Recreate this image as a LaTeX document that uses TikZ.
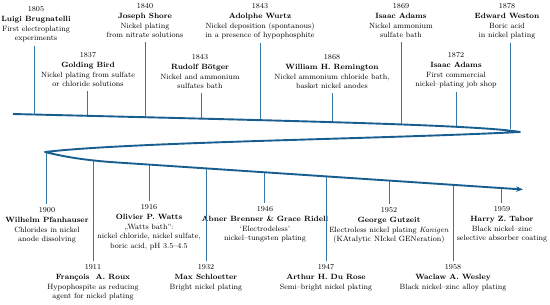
\documentclass[tikz,border=0pt]{standalone}
\usetikzlibrary{arrows.meta}
\definecolor{tlblue}{RGB}{24,94,145}
\definecolor{stemblue}{RGB}{52,120,168}
\begin{document}
\begin{tikzpicture}[
        x=1pt, y=-1pt,
        timeline/.style={line width=1.9pt, tlblue, line join=round, -{Stealth[length=7pt,width=5.5pt]}},
        stem/.style={line width=0.8pt, stemblue},
        event/.style={font=\fontsize{7.6}{9.6}\selectfont, align=center, inner sep=4pt, text=black},
        up/.style={event, anchor=north},
        down/.style={event, anchor=north}
    ]
        \useasboundingbox (0,0) rectangle (550,305);

        % Points on the timeline
        \coordinate (l1805) at (34,114.6);
        \coordinate (l1837) at (87,116);
        \coordinate (l1840) at (145,117.3);
        \coordinate (l1843a) at (201,118.7);
        \coordinate (l1843b) at (260,120.1);
        \coordinate (l1868) at (332,122);
        \coordinate (l1869) at (401,124);
        \coordinate (l1872) at (456,125.8);
        \coordinate (l1878) at (510,129.3);
        \coordinate (l1900) at (46,152.3);
        \coordinate (l1911) at (93,160.8);
        \coordinate (l1916) at (149,164.6);
        \coordinate (l1932) at (206,168.4);
        \coordinate (l1946) at (264,172.3);
        \coordinate (l1947) at (326,176.4);
        \coordinate (l1952) at (389,180.6);
        \coordinate (l1958) at (453,184.8);
        \coordinate (l1959) at (501,188);

        % Events above the timeline
        \node[up] (e1805) at (36,2.6) {1805\\\textbf{Luigi Brugnatelli}\\First electroplating\\experiments};
        \node[up] (e1837) at (88,48.6) {1837\\\textbf{Golding Bird}\\Nickel plating from sulfate\\or chloride solutions};
        \node[up] (e1840) at (145,-0.4) {1840\\\textbf{Joseph Shore}\\Nickel plating\\from nitrate solutions};
        \node[up] (e1843a) at (200,50.6) {1843\\\textbf{Rudolf B\"otger}\\Nickel and ammonium\\sulfates bath};
        \node[up] (e1843b) at (260,-0.4) {1843\\\textbf{Adolphe Wurtz}\\Nickel deposition (spontanous)\\in a presence of hypophosphite};
        \node[up] (e1868) at (332,50.6) {1868\\\textbf{William H. Remington}\\Nickel ammonium chloride bath,\\basket nickel anodes};
        \node[up] (e1869) at (401,-0.4) {1869\\\textbf{Isaac Adams}\\Nickel ammonium\\sulfate bath};
        \node[up] (e1872) at (456,48.6) {1872\\\textbf{Isaac Adams}\\First commercial\\nickel--plating job shop};
        \node[up] (e1878) at (507,-0.4) {1878\\\textbf{Edward Weston}\\Boric acid\\in nickel plating};

        % Events below the timeline
        \node[down] (e1900) at (47,203.6) {1900\\\textbf{Wilhelm Pfanhauser}\\Chlorides in nickel\\anode dissolving};
        \node[down] (e1911) at (93,260.6) {1911\\\textbf{Fran\c{c}ois\ \ A. Roux}\\Hypophospite as reducing\\agent for nickel plating};
        \node[down] (e1916) at (149,200.6) {1916\\\textbf{Olivier P. Watts}\\\quotedblbase Watts bath'':\\nickel chloride, nickel sulfate,\\boric acid, pH 3.5--4.5};
        \node[down] (e1932) at (206,260.6) {1932\\\textbf{Max Schloetter}\\Bright nickel plating};
        \node[down] (e1946) at (265,202.6) {1946\\\textbf{Abner Brenner \& Grace Ridell}\\`Electrodeless'\\nickel--tungsten plating};
        \node[down] (e1947) at (326,260.6) {1947\\\textbf{Arthur H. Du Rose}\\Semi--bright nickel plating};
        \node[down] (e1952) at (389,203.6) {1952\\\textbf{George Gutzeit}\\Electroless nickel plating \textit{Kanigen}\\(KAtalytic NIckel GENeration)};
        \node[down] (e1958) at (453,260.6) {1958\\\textbf{Waclaw A. Wesley}\\Black nickel--zinc alloy plating};
        \node[down] (e1959) at (502,202.6) {1959\\\textbf{Harry Z. Tabor}\\Black nickel--zinc\\selective absorber coating};

        % Stems
        \foreach \y in {1805,1837,1840,1843a,1843b,1868,1869,1872,1878}
            \draw[stem] (l\y) -- (l\y |- e\y.south);
        \foreach \y in {1900,1911,1916,1932,1946,1947,1952,1958,1959}
            \draw[stem] (l\y) -- (l\y |- e\y.north);

        % Timeline
        \draw[timeline] (13,114) .. controls (300,121) and (480,125) .. (520,132)
            .. controls (380,139) and (130,142) .. (45,152)
            .. controls (65,157) and (85,160) .. (110,162) -- (523,189.5);
    \end{tikzpicture}
\end{document}
